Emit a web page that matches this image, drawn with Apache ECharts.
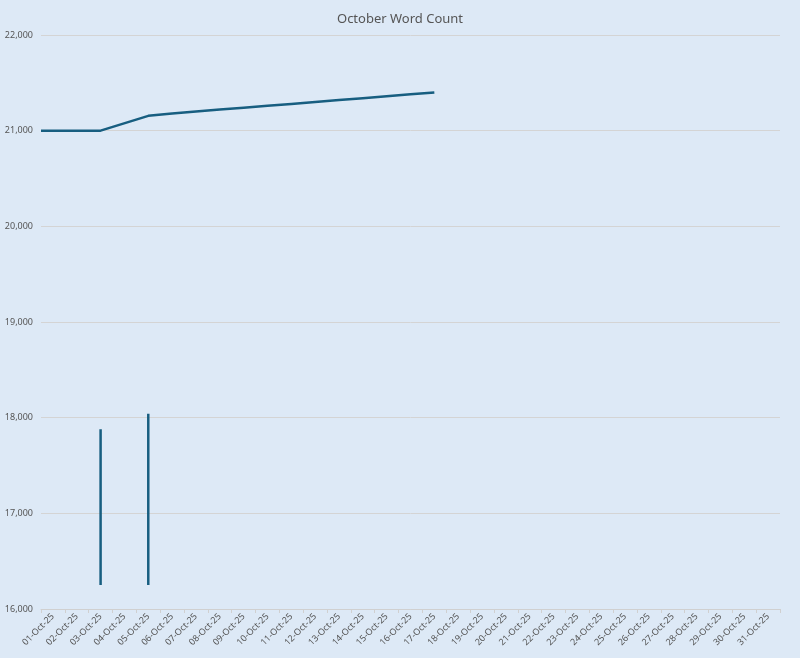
<!DOCTYPE html>
<html><head><meta charset="utf-8">
<script src="https://cdn.jsdelivr.net/npm/echarts@6/dist/echarts.min.js"></script>
<style>html,body{margin:0;padding:0;background:#dde9f6}#c{width:800px;height:658px}</style>
</head><body><div id="c"></div>
<script>
const categories = [];
for (let d = 1; d <= 31; d++) categories.push((d < 10 ? '0' + d : '' + d) + '-Oct-25');
const lineDays   = [0.5, 3, 5, 6, 7, 8, 9, 10, 11, 12, 13, 14, 15, 16, 17];
const lineValues = [21000, 21000, 21155, 21180, 21200, 21220, 21240, 21260, 21280, 21300, 21320, 21340, 21360, 21380, 21400];
const spikeDays = [3, 5];
const spikeLow  = [16250, 16250];
const spikeHigh = [17880, 18040];
const yTicks = [16000, 22000, 1000];

const color = '#175e80';
const series = [{
  type: 'line', xAxisIndex: 1, data: lineDays.map((d, i) => [d, lineValues[i]]),
  symbol: 'none', lineStyle: { color, width: 2.5 }
}];
spikeDays.forEach((d, i) => series.push({
  type: 'line', xAxisIndex: 1, data: [[d, spikeLow[i]], [d, spikeHigh[i]]],
  symbol: 'none', lineStyle: { color, width: 2.5 }
}));

const chart = echarts.init(document.getElementById('c'));
chart.setOption({
  backgroundColor: '#dde9f6',
  animation: false,
  textStyle: { fontFamily: 'Noto Sans' },
  title: { text: 'October Word Count', left: 'center', top: 8, textStyle: { color: '#555', fontSize: 13, fontWeight: 'normal' } },
  grid: { left: 41, right: 20, top: 35, bottom: 49 },
  xAxis: [{
    type: 'category', data: categories, boundaryGap: true,
    axisLine: { lineStyle: { color: '#d0d0d0' } },
    axisTick: { show: true, length: 4, lineStyle: { color: '#d0d0d0' } },
    axisLabel: { rotate: 45, color: '#555', fontSize: 9, margin: 6, interval: 0 }
  }, {
    type: 'value', min: 0.5, max: 31.5, show: false
  }],
  yAxis: {
    type: 'value', min: yTicks[0], max: yTicks[1], interval: yTicks[2],
    axisLine: { show: false }, axisTick: { show: false },
    axisLabel: { color: '#555', fontSize: 9 },
    splitLine: { lineStyle: { color: '#d4d4d4' } }
  },
  series
});
</script></body></html>
